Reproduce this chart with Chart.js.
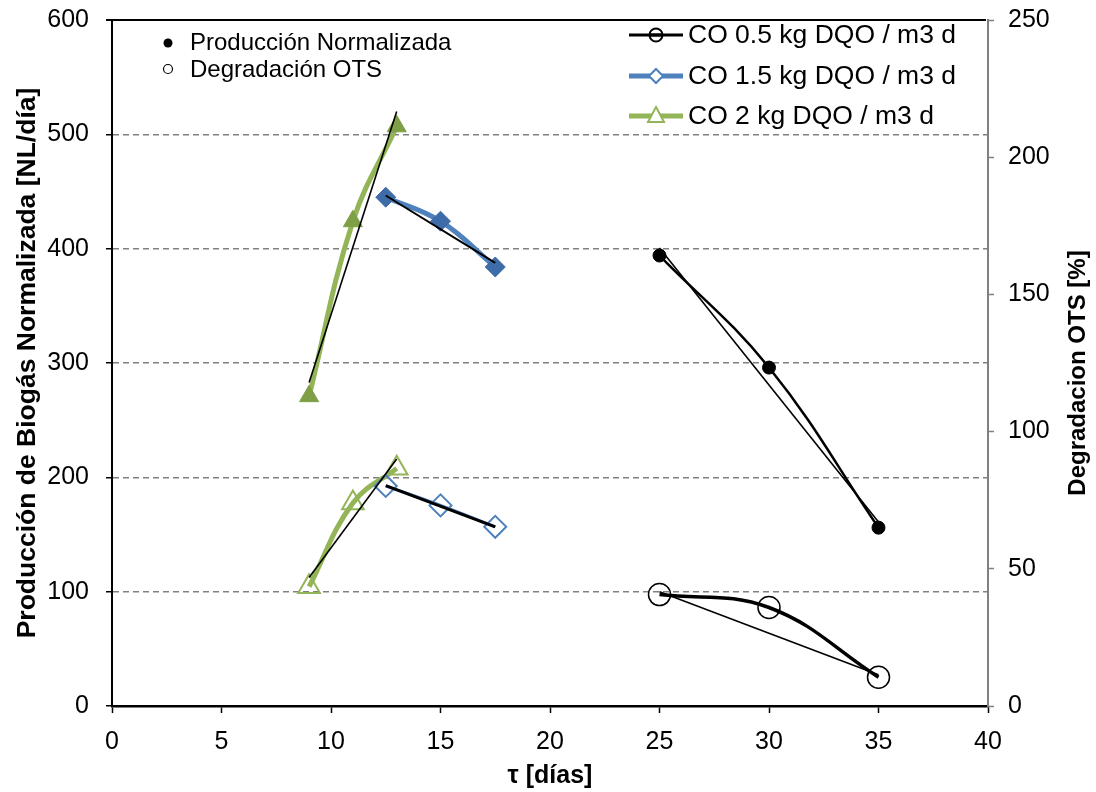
<!DOCTYPE html>
<html>
<head>
<meta charset="utf-8">
<script src="https://cdn.jsdelivr.net/npm/chart.js@4.4.1/dist/chart.umd.min.js"></script>
<style>
  html, body { margin: 0; padding: 0; background: #ffffff; }
  #wrap { width: 1096px; height: 792px; position: relative; }
</style>
</head>
<body>
<div id="wrap"><canvas id="c" width="1096" height="792"></canvas></div>
<script>
// ---- data ----
const xTicks = [0, 5, 10, 15, 20, 25, 30, 35, 40];
const leftTicks = [0, 100, 200, 300, 400, 500, 600];
const rightTicks = [0, 50, 100, 150, 200, 250];

// CO 0.5 kg DQO / m3 d
const days05 = [25, 30, 35];
const prod05 = [394, 296, 156];        // Producción (left axis)
const ots05 = [40.6, 35.9, 10.5];      // Degradación OTS (right axis)
// CO 1.5 kg DQO / m3 d
const days15 = [12.5, 15, 17.5];
const prod15 = [445, 424, 384];
const ots15 = [80.2, 73.1, 65.3];
// CO 2 kg DQO / m3 d
const days20 = [9, 11, 13];
const prod20 = [271, 424, 507];
const ots20 = [43.5, 74, 86.6];

// straight trend lines (end points)
const trendDays05 = [25, 35];
const trendProd05 = [400.5, 161];
const trendOts05 = [41.6, 11.4];
const trendDays15 = [12.5, 17.5];
const trendProd15 = [446.5, 387.5];
const trendOts15 = [80.3, 65.3];
const trendDays20 = [9, 13];
const trendProd20 = [283, 520];
const trendOts20 = [46.8, 90];

const seriesNames = ['CO 0.5 kg DQO / m3 d', 'CO 1.5 kg DQO / m3 d', 'CO 2 kg DQO / m3 d'];
const markerNames = ['Producción Normalizada', 'Degradación OTS'];

const BLACK = '#000000';
const BLUE = '#4F81BD';
const BLUE_D = '#3E6CA8';
const GREEN = '#93B557';
const GREEN_D = '#7F9F47';
const FONT = '"Liberation Sans", Arial, sans-serif';

function pts(xs, ys) { return xs.map((x, i) => ({x: x, y: ys[i]})); }

function series(label, xs, ys, axis, color, width, style, radius, fill, bw) {
  return {
    label: label, data: pts(xs, ys), yAxisID: axis,
    borderColor: color, borderWidth: width, tension: 0.4,
    pointStyle: style, pointRadius: radius, pointHoverRadius: radius,
    pointBackgroundColor: fill, pointBorderColor: fill === 'rgba(0,0,0,0)' ? color : fill,
    pointBorderWidth: bw, fill: false, order: 2
  };
}
function trend(xs, ys, axis, width) {
  return {
    data: pts(xs, ys), yAxisID: axis, borderColor: BLACK, borderWidth: width,
    pointRadius: 0, tension: 0, fill: false, order: 1
  };
}
const T = 'rgba(0,0,0,0)';

const datasets = [
  series('p05', days05, prod05, 'y', BLACK, 2.5, 'circle', 6.5, BLACK, 1),
  series('o05', days05, ots05, 'y2', BLACK, 3.5, 'circle', 11, T, 1.5),
  series('p15', days15, prod15, 'y', BLUE, 5, 'rectRot', 10, BLUE_D, 1),
  series('o15', days15, ots15, 'y2', BLUE, 3, 'rectRot', 11, T, 2),
  series('p20', days20, prod20, 'y', GREEN, 5, 'triangle', 11, GREEN_D, 1),
  series('o20', days20, ots20, 'y2', GREEN, 5, 'triangle', 12.5, T, 2),
  trend(trendDays05, trendProd05, 'y', 1.6),
  trend(trendDays05, trendOts05, 'y2', 1.6),
  trend(trendDays15, trendProd15, 'y', 2),
  trend(trendDays15, trendOts15, 'y2', 3),
  trend(trendDays20, trendProd20, 'y', 1.6),
  trend(trendDays20, trendOts20, 'y2', 1.6)
];

const overlay = {
  id: 'overlay',
  afterDraw(chart) {
    const ctx = chart.ctx;
    const a = chart.chartArea;
    ctx.save();
    // top border
    ctx.strokeStyle = BLACK; ctx.lineWidth = 2;
    ctx.beginPath(); ctx.moveTo(a.left - 6, a.top); ctx.lineTo(a.right - 2, a.top); ctx.stroke();

    // left legend (marker type)
    ctx.fillStyle = BLACK; ctx.textBaseline = 'middle'; ctx.textAlign = 'left';
    ctx.font = '24px ' + FONT;
    ctx.beginPath(); ctx.arc(168, 43, 4.5, 0, Math.PI * 2); ctx.fill();
    ctx.lineWidth = 1.2;
    ctx.beginPath(); ctx.arc(168, 69, 4.5, 0, Math.PI * 2); ctx.stroke();
    ctx.fillText(markerNames[0], 190, 43);
    ctx.fillText(markerNames[1], 190, 70);

    // right legend (series)
    const rows = [35, 76, 116];
    const cols = [BLACK, BLUE, GREEN];
    const lw = [3, 5, 5];
    const styles = ['circle', 'rectRot', 'triangle'];
    ctx.font = '26.5px ' + FONT;
    for (let i = 0; i < 3; i++) {
      const y = rows[i];
      ctx.strokeStyle = cols[i]; ctx.lineWidth = lw[i]; ctx.lineCap = 'butt';
      ctx.beginPath(); ctx.moveTo(629, y); ctx.lineTo(683, y); ctx.stroke();
      ctx.fillStyle = '#ffffff'; ctx.lineWidth = 2;
      if (styles[i] === 'circle') {
        ctx.beginPath(); ctx.arc(656, y, 6.5, 0, Math.PI * 2); ctx.stroke();
        ctx.beginPath(); ctx.moveTo(649, y); ctx.lineTo(663, y); ctx.strokeStyle = cols[i]; ctx.lineWidth = 3; ctx.stroke();
      } else if (styles[i] === 'rectRot') {
        ctx.beginPath(); ctx.moveTo(656, y - 7); ctx.lineTo(663, y); ctx.lineTo(656, y + 7); ctx.lineTo(649, y); ctx.closePath();
        ctx.fill(); ctx.stroke();
      } else {
        ctx.beginPath(); ctx.moveTo(656, y - 9); ctx.lineTo(664, y + 6); ctx.lineTo(648, y + 6); ctx.closePath();
        ctx.fill(); ctx.stroke();
      }
      ctx.fillStyle = BLACK;
      ctx.fillText(seriesNames[i], 688, y + 1);
    }

    // right axis title (reads bottom to top)
    ctx.save();
    ctx.translate(1078, 373);
    ctx.rotate(-Math.PI / 2);
    ctx.font = 'bold 24px ' + FONT;
    ctx.textAlign = 'center'; ctx.textBaseline = 'middle'; ctx.fillStyle = BLACK;
    ctx.fillText('Degradacion OTS [%]', 0, 0);
    ctx.restore();
    ctx.restore();
  }
};

new Chart(document.getElementById('c'), {
  type: 'line',
  data: { datasets: datasets },
  plugins: [overlay],
  options: {
    responsive: false,
    devicePixelRatio: 1,
    animation: false,
    events: [],
    layout: { padding: { top: 20, left: 0, right: 0, bottom: 0 } },
    plugins: { legend: { display: false }, tooltip: { enabled: false }, title: { display: false } },
    scales: {
      x: {
        type: 'linear', position: 'bottom', min: 0, max: 40,
        afterBuildTicks: s => { s.ticks = xTicks.map(v => ({value: v})); },
        afterFit: s => { s.height = 86; s.paddingLeft = 0; s.paddingRight = 0; },
        ticks: { color: BLACK, font: { size: 25, family: FONT }, padding: 14, maxRotation: 0 },
        grid: { drawOnChartArea: false, drawTicks: true, tickLength: 7, tickColor: BLACK, tickWidth: 1.5 },
        border: { color: BLACK, width: 2.5 },
        title: { display: true, text: 'τ [días]', color: BLACK, font: { size: 25, weight: 'bold', family: FONT }, padding: { top: 0, bottom: 1 } }
      },
      y: {
        type: 'linear', position: 'left', min: 0, max: 600,
        afterBuildTicks: s => { s.ticks = leftTicks.map(v => ({value: v})); },
        afterFit: s => { s.width = 112; s.paddingTop = 0; s.paddingBottom = 0; },
        ticks: { color: BLACK, font: { size: 25, family: FONT }, padding: 17 },
        grid: {
          color: c => (c.tick && (c.tick.value === 0 || c.tick.value === 600)) ? 'rgba(0,0,0,0)' : '#808080',
          lineWidth: 1.5, tickLength: 6, tickColor: BLACK, tickWidth: 1.5
        },
        border: { color: BLACK, width: 2, dash: [6, 4] },
        title: { display: true, text: 'Producción de Biogás Normalizada [NL/día]', color: BLACK, font: { size: 26.5, weight: 'bold', family: FONT }, padding: { top: 12, bottom: 0 } }
      },
      y2: {
        type: 'linear', position: 'right', min: 0, max: 250,
        afterBuildTicks: s => { s.ticks = rightTicks.map(v => ({value: v})); },
        afterFit: s => { s.width = 108; s.paddingTop = 0; s.paddingBottom = 0; },
        ticks: { color: BLACK, font: { size: 25, family: FONT }, padding: 14 },
        grid: { drawOnChartArea: false, tickLength: 6, tickColor: '#808080', tickWidth: 1.5 },
        border: { color: '#808080', width: 2 }
      }
    }
  }
});
</script>
</body>
</html>
